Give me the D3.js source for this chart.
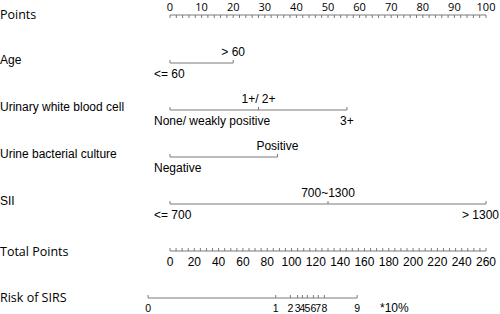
<!DOCTYPE html>
<html><head><meta charset="utf-8">
<script src="https://cdn.jsdelivr.net/npm/d3@7"></script>
<style>
html,body{margin:0;padding:0;background:#fff;}
svg{display:block;}
</style></head>
<body><svg id="chart" width="500" height="314"></svg>
<script>
// ---- data ----
const pointsTickLabels = [0,10,20,30,40,50,60,70,80,90,100];
const totalTickLabels = [0,20,40,60,80,100,120,140,160,180,200,220,240,260];
const variableNames = ["Age","Urinary white blood cell","Urine bacterial culture","SII"];
const ageLevels = ["<= 60","> 60"];
const agePoints = [0,20];
const wbcLevels = ["None/ weakly positive","1+/ 2+","3+"];
const wbcPoints = [0,28,56];
const cultureLevels = ["Negative","Positive"];
const culturePoints = [0,34];
const siiLevels = ["<= 700","700~1300","> 1300"];
const siiPoints = [0,50,100];
const riskLabels = ["0","1","2","3","4","5","6","7","8","9"];
const riskTotalPoints = [-18,87,99,105,109,113,118,122,127,154];
const riskUnit = "*10%";

// ---- layout ----
const W = 500;
const svg = d3.select("#chart");
const x0 = 170, x1 = 486;
const xPts = d3.scaleLinear().domain([0,100]).range([x0,x1]);
const xTot = d3.scaleLinear().domain([0,260]).range([x0,x1]);
const lineColor = "#7a7a7a", textColor = "#000";
const sansH = "'Open Sans','Noto Sans',sans-serif";
const sansA = "'Liberation Sans',Arial,sans-serif";

function label(txt, y, font, size){
  svg.append("text").attr("x",0).attr("y",y).text(txt)
    .attr("font-family",font).attr("font-size",size).attr("fill",textColor);
}

// Points axis
const yP = 15;
label("Points", 19, sansH, "12.5px");
svg.append("line").attr("x1",xPts(0)).attr("x2",xPts(100)).attr("y1",yP).attr("y2",yP)
  .attr("stroke",lineColor).attr("stroke-width",1);
svg.selectAll(".pminor").data(d3.range(0,101,2)).join("line")
  .attr("x1",d=>xPts(d)).attr("x2",d=>xPts(d)).attr("y1",yP).attr("y2",yP+3)
  .attr("stroke",lineColor).attr("stroke-width",1);
svg.selectAll(".plab").data(pointsTickLabels).join("text")
  .attr("x",d=>xPts(d)).attr("y",11).attr("text-anchor","middle").text(d=>d)
  .attr("font-family",sansH).attr("font-size","11px").attr("fill",textColor);

// Variable axes
const vars = [
  {name:variableNames[0], levels:ageLevels, pts:agePoints, y:63},
  {name:variableNames[1], levels:wbcLevels, pts:wbcPoints, y:110},
  {name:variableNames[2], levels:cultureLevels, pts:culturePoints, y:157},
  {name:variableNames[3], levels:siiLevels, pts:siiPoints, y:204}
];
vars.forEach(v=>{
  label(v.name, v.y+1, sansA, "12px");
  const g = svg.append("g");
  g.append("line").attr("x1",xPts(d3.min(v.pts))).attr("x2",xPts(d3.max(v.pts)))
    .attr("y1",v.y).attr("y2",v.y).attr("stroke",lineColor).attr("stroke-width",1);
  g.selectAll("line.t").data(v.pts).join("line").attr("class","t")
    .attr("x1",d=>xPts(d)).attr("x2",d=>xPts(d)).attr("y1",v.y).attr("y2",v.y-3)
    .attr("stroke",lineColor).attr("stroke-width",1);
  g.selectAll("text").data(v.levels).join("text")
    .attr("x",(d,i)=> i===0 ? xPts(v.pts[i])-16 : xPts(v.pts[i]))
    .attr("y",(d,i)=> i%2===0 ? v.y+15 : v.y-7)
    .attr("text-anchor",(d,i)=> i===0 ? "start" : "middle")
    .text(d=>d)
    .attr("font-family",sansA).attr("font-size","12px").attr("fill",textColor)
    .each(function(){
      const b = this.getBBox();
      if (b.x + b.width > W - 1) {
        d3.select(this).attr("text-anchor","end").attr("x", W - 1);
      }
    });
});

// Total points axis
const yT = 251;
label("Total Points", 256, sansH, "12.5px");
svg.append("line").attr("x1",xTot(0)).attr("x2",xTot(260)).attr("y1",yT).attr("y2",yT)
  .attr("stroke",lineColor).attr("stroke-width",1);
svg.selectAll(".tminor").data(d3.range(0,261,5)).join("line")
  .attr("x1",d=>xTot(d)).attr("x2",d=>xTot(d)).attr("y1",yT).attr("y2",yT-3)
  .attr("stroke",lineColor).attr("stroke-width",1);
svg.selectAll(".tlab").data(totalTickLabels).join("text")
  .attr("x",d=>xTot(d)).attr("y",266).attr("text-anchor","middle").text(d=>d)
  .attr("font-family",sansA).attr("font-size","12px").attr("fill",textColor);

// Risk axis
const yR = 298;
label("Risk of SIRS", 302, sansH, "12.5px");
svg.append("line").attr("x1",xTot(d3.min(riskTotalPoints))).attr("x2",xTot(d3.max(riskTotalPoints)))
  .attr("y1",yR).attr("y2",yR).attr("stroke",lineColor).attr("stroke-width",1);
svg.selectAll(".rt").data(riskTotalPoints).join("line")
  .attr("x1",d=>xTot(d)).attr("x2",d=>xTot(d)).attr("y1",yR).attr("y2",yR-3)
  .attr("stroke",lineColor).attr("stroke-width",1);
svg.selectAll(".rlab").data(riskLabels).join("text")
  .attr("x",(d,i)=>xTot(riskTotalPoints[i])).attr("y",312).attr("text-anchor","middle").text(d=>d)
  .attr("font-family",sansA).attr("font-size","10.5px").attr("fill",textColor);
svg.append("text").attr("x",380).attr("y",312).text(riskUnit)
  .attr("font-family",sansA).attr("font-size","12px").attr("fill",textColor);
</script></body></html>
